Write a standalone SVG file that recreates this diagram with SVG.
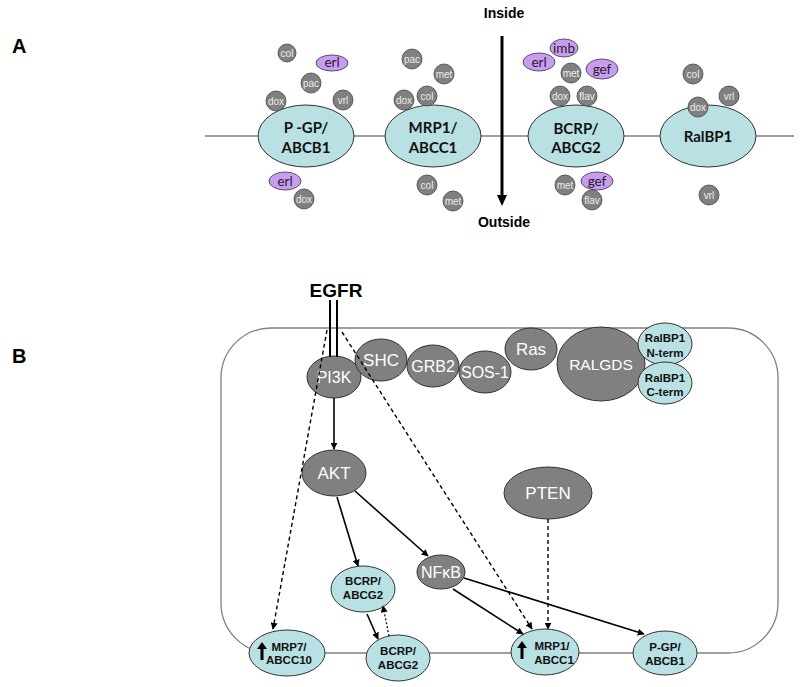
<svg xmlns="http://www.w3.org/2000/svg" width="800" height="687" viewBox="0 0 800 687">
<style>
.bg{fill:#fff}
.mem{stroke:#808080;stroke-width:1.3;fill:none}
.tA{fill:#b9e0e2;stroke:#333;stroke-width:1}
.lblA{font-family:Lato,"Liberation Sans",sans-serif;font-weight:bold;font-size:15px;fill:#111;text-anchor:middle}
.sm{fill:#808080;stroke:#444;stroke-width:0.8}
.smt{font-family:"Liberation Sans",Arial,sans-serif;font-size:10px;fill:#eee;text-anchor:middle}
.pu{fill:#c99cf2;stroke:#333;stroke-width:0.8}
.put{font-family:Lato,"Liberation Sans",sans-serif;font-size:13.5px;fill:#222;text-anchor:middle}
.g{fill:#808080;stroke:#333;stroke-width:1}
.gt{font-family:"Liberation Sans",Arial,sans-serif;fill:#fff;text-anchor:middle}
.t{fill:#b9e0e2;stroke:#333;stroke-width:1}
.tt{font-family:"Liberation Sans",Arial,sans-serif;font-weight:bold;font-size:11.5px;fill:#111;text-anchor:middle}
.hd{font-family:"Liberation Sans",Arial,sans-serif;font-weight:bold;fill:#000}
.c{stroke:#000;stroke-width:1.6;fill:none}
.d{stroke:#000;stroke-width:1.4;fill:none;stroke-dasharray:4,3}
.dt{stroke:#000;stroke-width:1.2;fill:none;stroke-dasharray:2,2}
</style>
<defs>
<marker id="ah" viewBox="0 0 10 10" refX="9" refY="5" markerWidth="7" markerHeight="7" markerUnits="userSpaceOnUse" orient="auto">
<path d="M0,0 L10,5 L0,10 z" fill="#000"/>
</marker>
<symbol id="up" viewBox="0 0 10 20" overflow="visible">
<path d="M5,0 L10,7 L6.5,7 L6.5,18 L3.5,18 L3.5,7 L0,7 z" fill="#000"/>
</symbol>
</defs>
<rect class="bg" x="0" y="0" width="800" height="687"/>

<!-- Panel A -->
<text class="hd" x="12" y="53" font-size="20">A</text>
<line class="mem" x1="205" y1="136" x2="794" y2="136"/>
<g id="A_arrow">
<text class="hd" x="504" y="18" font-size="14" text-anchor="middle">Inside</text>
<line x1="502" y1="36" x2="502" y2="196" stroke="#000" stroke-width="3"/>
<path d="M497,195 L507,195 L502,206 z" fill="#000"/>
<text class="hd" x="504" y="227" font-size="14" text-anchor="middle">Outside</text>
</g>

<g id="A_pgp">
<ellipse class="tA" cx="306" cy="136" rx="48" ry="31"/>
<text class="lblA" x="306" y="133">P -GP/</text>
<text class="lblA" x="306" y="153">ABCB1</text>
<circle class="sm" cx="287" cy="53" r="9"/><text class="smt" x="287" y="56.5">col</text>
<ellipse class="pu" cx="332" cy="63" rx="16" ry="8"/><text class="put" x="332" y="67">erl</text>
<circle class="sm" cx="311" cy="83" r="10"/><text class="smt" x="311" y="86.5">pac</text>
<circle class="sm" cx="276" cy="101" r="10"/><text class="smt" x="276" y="104.5">dox</text>
<circle class="sm" cx="343" cy="100" r="10"/><text class="smt" x="343" y="103.5">vrl</text>
<ellipse class="pu" cx="285" cy="181" rx="16" ry="9"/><text class="put" x="285" y="185.5">erl</text>
<circle class="sm" cx="304" cy="199" r="10"/><text class="smt" x="304" y="202.5">dox</text>
</g>

<g id="A_mrp1">
<ellipse class="tA" cx="433" cy="136" rx="48" ry="31"/>
<text class="lblA" x="433" y="133">MRP1/</text>
<text class="lblA" x="433" y="153">ABCC1</text>
<circle class="sm" cx="412" cy="59" r="10"/><text class="smt" x="412" y="62.5">pac</text>
<circle class="sm" cx="444" cy="74" r="10"/><text class="smt" x="444" y="77.5">met</text>
<circle class="sm" cx="404" cy="100" r="10"/><text class="smt" x="404" y="103.5">dox</text>
<circle class="sm" cx="427" cy="96" r="10"/><text class="smt" x="427" y="99.5">col</text>
<circle class="sm" cx="427" cy="185" r="10"/><text class="smt" x="427" y="188.5">col</text>
<circle class="sm" cx="453" cy="201" r="10"/><text class="smt" x="453" y="204.5">met</text>
</g>

<g id="A_bcrp">
<ellipse class="tA" cx="576" cy="136" rx="48" ry="31"/>
<text class="lblA" x="576" y="134">BCRP/</text>
<text class="lblA" x="576" y="153">ABCG2</text>
<ellipse class="pu" cx="564" cy="48" rx="14" ry="9"/><text class="put" x="564" y="52.5">imb</text>
<ellipse class="pu" cx="539" cy="62" rx="16" ry="9"/><text class="put" x="539" y="66.5">erl</text>
<circle class="sm" cx="571" cy="73" r="10"/><text class="smt" x="571" y="76.5">met</text>
<ellipse class="pu" cx="602" cy="69" rx="16" ry="10"/><text class="put" x="602" y="73.5">gef</text>
<circle class="sm" cx="560" cy="96" r="10"/><text class="smt" x="560" y="99.5">dox</text>
<circle class="sm" cx="587" cy="96" r="10"/><text class="smt" x="587" y="99.5">flav</text>
<circle class="sm" cx="565" cy="185" r="10"/><text class="smt" x="565" y="188.5">met</text>
<ellipse class="pu" cx="597" cy="181" rx="16" ry="9"/><text class="put" x="597" y="185.5">gef</text>
<circle class="sm" cx="592" cy="200" r="10"/><text class="smt" x="592" y="203.5">flav</text>
</g>

<g id="A_ralbp1">
<ellipse class="tA" cx="708" cy="136" rx="48" ry="31"/>
<text class="lblA" x="708" y="142">RalBP1</text>
<circle class="sm" cx="693" cy="74" r="10"/><text class="smt" x="693" y="77.5">col</text>
<circle class="sm" cx="729" cy="96" r="10"/><text class="smt" x="729" y="99.5">vrl</text>
<circle class="sm" cx="698" cy="107" r="10"/><text class="smt" x="698" y="110.5">dox</text>
<circle class="sm" cx="709" cy="195" r="10"/><text class="smt" x="709" y="198.5">vrl</text>
</g>

<!-- Panel B -->
<text class="hd" x="12" y="363" font-size="20">B</text>
<rect class="mem" x="221" y="328" width="557" height="325" rx="50" ry="50"/>

<g id="pi3k"><ellipse class="g" cx="334" cy="377" rx="27" ry="21"/><text class="gt" x="334" y="383" font-size="16">PI3K</text></g>
<g id="shc"><ellipse class="g" cx="381" cy="360" rx="26" ry="21"/><text class="gt" x="381" y="366" font-size="17">SHC</text></g>
<g id="grb2"><ellipse class="g" cx="433" cy="366" rx="26" ry="21"/><text class="gt" x="433" y="372" font-size="16">GRB2</text></g>
<g id="sos1"><ellipse class="g" cx="485" cy="372" rx="26" ry="21"/><text class="gt" x="485" y="378" font-size="16">SOS-1</text></g>
<g id="ras"><ellipse class="g" cx="531" cy="349" rx="26" ry="21"/><text class="gt" x="531" y="355" font-size="17">Ras</text></g>
<g id="ralgds"><ellipse class="g" cx="601" cy="364" rx="44" ry="37"/><text class="gt" x="601" y="370" font-size="15.5">RALGDS</text></g>
<g id="ralbp1n"><ellipse class="t" cx="665" cy="344" rx="27" ry="21"/><text class="tt" x="665" y="342" font-size="12.5">RalBP1</text><text class="tt" x="665" y="357" font-size="12.5">N-term</text></g>
<g id="ralbp1c"><ellipse class="t" cx="665" cy="383" rx="27" ry="21"/><text class="tt" x="665" y="382" font-size="12.5">RalBP1</text><text class="tt" x="665" y="396" font-size="12.5">C-term</text></g>
<g id="akt"><ellipse class="g" cx="334" cy="473" rx="32" ry="23"/><text class="gt" x="334" y="479" font-size="17">AKT</text></g>
<g id="pten"><ellipse class="g" cx="548" cy="493" rx="44" ry="26"/><text class="gt" x="548" y="499" font-size="17">PTEN</text></g>
<g id="nfkb"><ellipse class="g" cx="441" cy="572" rx="24" ry="17"/><text class="gt" x="441" y="578" font-size="16">NFκB</text></g>
<g id="bcrp_up"><ellipse class="t" cx="363" cy="589" rx="32" ry="23"/><text class="tt" x="363" y="585">BCRP/</text><text class="tt" x="363" y="599">ABCG2</text></g>
<g id="mrp7"><ellipse class="t" cx="287" cy="653" rx="38" ry="23"/><use href="#up" x="257" y="642" width="10" height="20"/><text class="tt" x="289" y="651">MRP7/</text><text class="tt" x="289" y="664">ABCC10</text></g>
<g id="bcrp_low"><ellipse class="t" cx="398" cy="658" rx="32" ry="23"/><text class="tt" x="398" y="655">BCRP/</text><text class="tt" x="398" y="669">ABCG2</text></g>
<g id="mrp1"><ellipse class="t" cx="545" cy="652" rx="34" ry="23"/><use href="#up" x="517" y="641" width="10" height="20"/><text class="tt" x="552" y="650">MRP1/</text><text class="tt" x="554" y="664">ABCC1</text></g>
<g id="pgp"><ellipse class="t" cx="665" cy="653" rx="32" ry="22"/><text class="tt" x="665" y="651">P-GP/</text><text class="tt" x="665" y="665">ABCB1</text></g>

<g id="egfr">
<text class="hd" x="336" y="297" font-size="19" text-anchor="middle">EGFR</text>
<line x1="330" y1="300" x2="330" y2="357" stroke="#000" stroke-width="2"/>
<line x1="337" y1="300" x2="337" y2="357" stroke="#000" stroke-width="2"/>
</g>

<g id="connectors">
<line class="c" x1="334" y1="398" x2="334" y2="449" marker-end="url(#ah)"/>
<line class="c" x1="337" y1="497" x2="358" y2="566" marker-end="url(#ah)"/>
<line class="c" x1="355" y1="491" x2="428" y2="556" marker-end="url(#ah)"/>
<line class="c" x1="453" y1="589" x2="523" y2="634" marker-end="url(#ah)"/>
<line class="c" x1="464" y1="578" x2="644" y2="634" marker-end="url(#ah)"/>
<line class="c" x1="367" y1="614" x2="378" y2="639" marker-end="url(#ah)"/>
<line class="dt" x1="389" y1="636" x2="383" y2="606" marker-end="url(#ah)"/>
<line class="d" x1="327" y1="330" x2="273" y2="629" marker-end="url(#ah)"/>
<line class="d" x1="342" y1="332" x2="532" y2="629" marker-end="url(#ah)"/>
<line class="d" x1="548" y1="519" x2="548" y2="629" marker-end="url(#ah)"/>
</g>
</svg>
